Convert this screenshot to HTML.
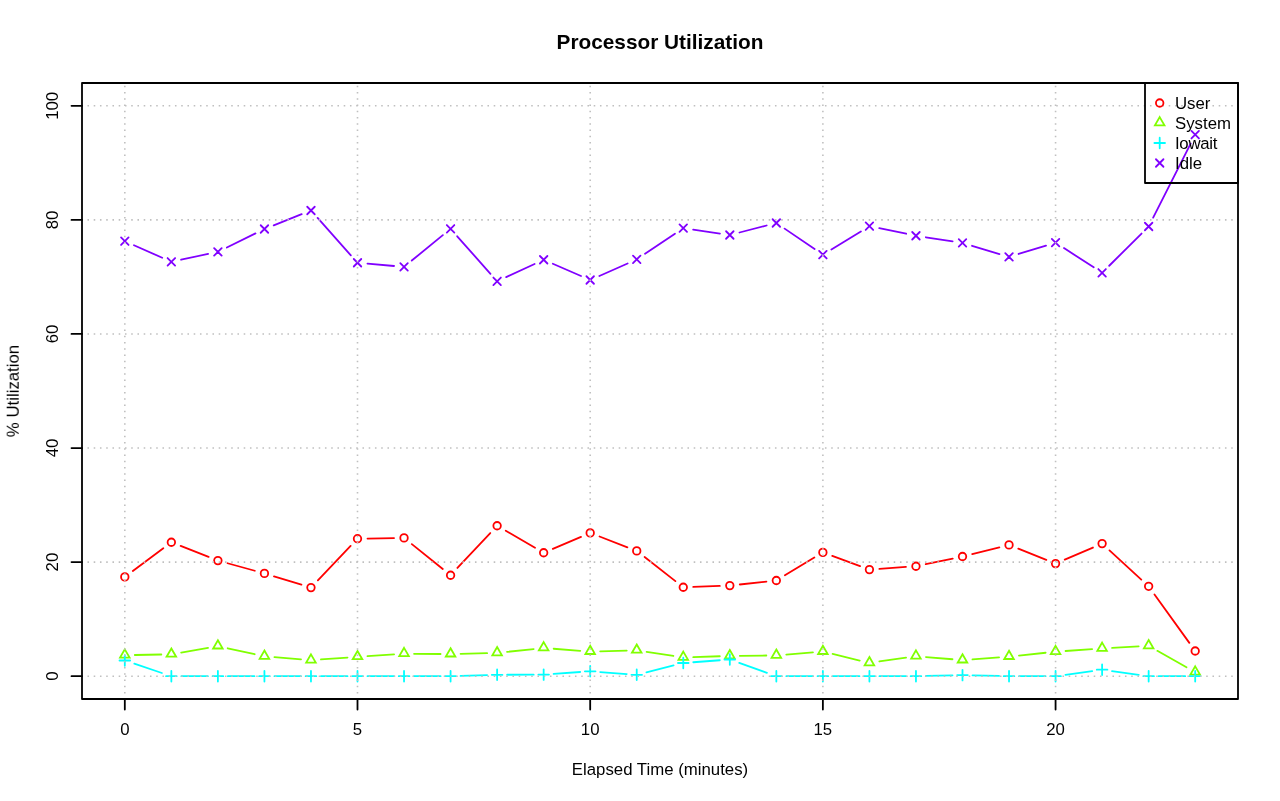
<!DOCTYPE html><html><head><meta charset="utf-8"><title>Processor Utilization</title><style>html,body{margin:0;padding:0;background:#fff;overflow:hidden}svg{display:block}text{font-family:"Liberation Sans",Arial,Helvetica,sans-serif;fill:#000}</style></head><body>
<svg width="1280" height="801" viewBox="0 0 1280 801">
<rect width="1280" height="801" fill="#fff"/>
<defs><clipPath id="pc"><rect x="82.0" y="83.0" width="1156.0" height="616.0"/></clipPath></defs>
<g clip-path="url(#pc)">
<path d="M132.84 570.93L163.33 548.22M180.66 545.92L208.59 556.93M227.53 563.25L254.79 570.75M273.99 576.32L301.4 584.68M317.86 580.36L350.61 545.94M367.5 538.53L394.04 538.07M411.84 544.16L442.78 568.99M457.43 567.96L490.27 533.04M505.77 530.77L535.01 547.73M552.85 548.83L581 536.82M599.52 536.51L627.4 547.29M644.61 557.06L675.39 581.09M693.26 586.9L719.81 585.95M739.75 584.51L766.4 581.59M784.91 575.33L814.32 557.57M832.26 555.87L860.04 566.13M879.39 568.88L905.98 566.97M925.75 564.2L952.71 558.55M972.2 554.08L999.33 547.32M1018.31 548.63L1046.29 559.87M1064.76 559.65L1092.92 547.55M1109.48 550.36L1141.28 579.54M1154.49 594.42L1189.35 642.88" stroke="#FF0000" stroke-width="1.8" fill="none" stroke-linecap="round"/>
<g stroke="#FF0000" stroke-width="1.8" fill="none" stroke-linecap="round"><circle cx="124.81" cy="576.9" r="3.75"/><circle cx="171.35" cy="542.25" r="3.75"/><circle cx="217.89" cy="560.6" r="3.75"/><circle cx="264.43" cy="573.4" r="3.75"/><circle cx="310.97" cy="587.6" r="3.75"/><circle cx="357.5" cy="538.7" r="3.75"/><circle cx="404.04" cy="537.9" r="3.75"/><circle cx="450.58" cy="575.25" r="3.75"/><circle cx="497.12" cy="525.75" r="3.75"/><circle cx="543.66" cy="552.75" r="3.75"/><circle cx="590.19" cy="532.9" r="3.75"/><circle cx="636.73" cy="550.9" r="3.75"/><circle cx="683.27" cy="587.25" r="3.75"/><circle cx="729.81" cy="585.6" r="3.75"/><circle cx="776.34" cy="580.5" r="3.75"/><circle cx="822.88" cy="552.4" r="3.75"/><circle cx="869.42" cy="569.6" r="3.75"/><circle cx="915.96" cy="566.25" r="3.75"/><circle cx="962.5" cy="556.5" r="3.75"/><circle cx="1009.03" cy="544.9" r="3.75"/><circle cx="1055.57" cy="563.6" r="3.75"/><circle cx="1102.11" cy="543.6" r="3.75"/><circle cx="1148.65" cy="586.3" r="3.75"/><circle cx="1195.19" cy="651" r="3.75"/></g>
<path d="M134.81 655.01L161.35 654.49M181.2 652.56L208.04 647.84M227.65 648.26L254.66 654.24M274.4 657.21L301 659.39M320.94 659.47L347.53 657.53M367.48 656.14L394.06 654.36M414.04 653.79L440.58 654.01M460.58 653.84L487.12 653.16M507.06 651.85L533.71 649.05M553.63 648.77L580.22 650.83M600.19 651.32L626.73 650.58M646.61 651.83L673.39 655.97M693.26 657.16L719.81 656.24M739.81 655.79L766.35 655.51M786.31 654.59L812.92 652.41M832.6 653.96L859.7 660.54M879.32 661.48L906.06 657.62M925.92 657.04L952.53 659.26M972.47 659.35L999.06 657.35M1018.98 655.55L1045.63 652.75M1065.55 651.01L1092.13 649.19M1112.09 647.94L1138.66 646.46M1157.35 650.82L1186.48 667.28" stroke="#80FF00" stroke-width="1.8" fill="none" stroke-linecap="round"/>
<g stroke="#80FF00" stroke-width="1.8" fill="none" stroke-linecap="round"><path d="M124.81 649.33L129.6 657.61L120.03 657.61Z"/><path d="M171.35 648.43L176.13 656.71L166.57 656.71Z"/><path d="M217.89 640.23L222.67 648.51L213.11 648.51Z"/><path d="M264.43 650.53L269.21 658.81L259.65 658.81Z"/><path d="M310.97 654.33L315.75 662.61L306.19 662.61Z"/><path d="M357.5 650.93L362.29 659.21L352.72 659.21Z"/><path d="M404.04 647.83L408.82 656.11L399.26 656.11Z"/><path d="M450.58 648.23L455.36 656.51L445.8 656.51Z"/><path d="M497.12 647.03L501.9 655.31L492.34 655.31Z"/><path d="M543.66 642.13L548.44 650.41L538.87 650.41Z"/><path d="M590.19 645.73L594.97 654.01L585.41 654.01Z"/><path d="M636.73 644.43L641.51 652.71L631.95 652.71Z"/><path d="M683.27 651.63L688.05 659.91L678.49 659.91Z"/><path d="M729.81 650.03L734.59 658.31L725.03 658.31Z"/><path d="M776.34 649.53L781.13 657.81L771.56 657.81Z"/><path d="M822.88 645.73L827.66 654.01L818.1 654.01Z"/><path d="M869.42 657.03L874.2 665.31L864.64 665.31Z"/><path d="M915.96 650.33L920.74 658.61L911.18 658.61Z"/><path d="M962.5 654.23L967.28 662.51L957.71 662.51Z"/><path d="M1009.03 650.73L1013.81 659.01L1004.25 659.01Z"/><path d="M1055.57 645.83L1060.35 654.11L1050.79 654.11Z"/><path d="M1102.11 642.63L1106.89 650.91L1097.33 650.91Z"/><path d="M1148.65 640.03L1153.43 648.31L1143.87 648.31Z"/><path d="M1195.19 666.33L1199.97 674.61L1190.4 674.61Z"/></g>
<path d="M134.29 663.69L161.88 672.99M181.35 676.19L207.89 676.19M227.89 676.19L254.43 676.19M274.43 676.19L300.97 676.19M320.97 676.19L347.5 676.19M367.5 676.19L394.04 676.19M414.04 676.19L440.58 676.19M460.58 675.89L487.12 675.1M507.12 674.76L533.66 674.64M553.63 673.89L580.22 672.01M600.17 672.05L626.76 674.05M646.42 672.34L673.58 665.46M693.24 662.25L719.83 660.25M739.22 662.87L766.93 672.81M786.34 676.19L812.88 676.19M832.88 676.19L859.42 676.19M879.42 676.19L905.96 676.19M925.96 675.95L952.5 675.33M972.49 675.33L999.04 675.95M1019.03 676.19L1045.57 676.19M1065.48 674.8L1092.21 671.08M1112.01 671.08L1138.74 674.8M1158.65 676.19L1185.19 676.19" stroke="#00FFFF" stroke-width="1.8" fill="none" stroke-linecap="round"/>
<g stroke="#00FFFF" stroke-width="1.8" fill="none" stroke-linecap="round"><path d="M119.51 660.5H130.12M124.81 655.2V665.8"/><path d="M166.05 676.19H176.66M171.35 670.88V681.49"/><path d="M212.59 676.19H223.19M217.89 670.88V681.49"/><path d="M259.13 676.19H269.73M264.43 670.88V681.49"/><path d="M305.66 676.19H316.27M310.97 670.88V681.49"/><path d="M352.2 676.19H362.81M357.5 670.88V681.49"/><path d="M398.74 676.19H409.35M404.04 670.88V681.49"/><path d="M445.28 676.19H455.88M450.58 670.88V681.49"/><path d="M491.81 674.8H502.42M497.12 669.5V680.1"/><path d="M538.35 674.6H548.96M543.66 669.3V679.9"/><path d="M584.89 671.3H595.5M590.19 666V676.6"/><path d="M631.43 674.8H642.03M636.73 669.5V680.1"/><path d="M677.97 663H688.57M683.27 657.7V668.3"/><path d="M724.5 659.5H735.11M729.81 654.2V664.8"/><path d="M771.04 676.19H781.65M776.34 670.88V681.49"/><path d="M817.58 676.19H828.19M822.88 670.88V681.49"/><path d="M864.12 676.19H874.72M869.42 670.88V681.49"/><path d="M910.65 676.19H921.26M915.96 670.88V681.49"/><path d="M957.19 675.1H967.8M962.5 669.8V680.4"/><path d="M1003.73 676.19H1014.34M1009.03 670.88V681.49"/><path d="M1050.27 676.19H1060.87M1055.57 670.88V681.49"/><path d="M1096.81 669.7H1107.41M1102.11 664.4V675"/><path d="M1143.34 676.19H1153.95M1148.65 670.88V681.49"/><path d="M1189.88 676.19H1200.49M1195.19 670.88V681.49"/></g>
<path d="M133.96 245.25L162.21 257.75M181.13 259.72L208.11 253.98M226.86 247.48L255.46 233.42M273.72 225.31L301.67 214.19M317.62 217.97L350.85 255.28M367.46 263.64L394.08 266.01M411.78 260.57L442.84 235.13M457.21 236.28L490.48 273.82M506.19 277.1L534.58 263.95M552.82 263.74L581.02 276.01M599.34 275.95L627.59 263.45M645.03 253.82L674.97 233.68M693.16 229.57L719.91 233.53M739.49 232.5L766.66 225.5M784.61 228.63L814.62 249.07M831.41 249.48L860.89 231.42M879.22 228.21L906.16 233.74M925.84 237.27L952.61 241.38M972.07 245.78L999.46 254.02M1018.6 253.97L1046.01 245.58M1063.96 248.09L1093.72 267.36M1109.2 265.75L1141.56 233.55M1153.17 217.58L1190.66 143.62" stroke="#8000FF" stroke-width="1.8" fill="none" stroke-linecap="round"/>
<g stroke="#8000FF" stroke-width="1.8" fill="none" stroke-linecap="round"><path d="M121.06 237.45L128.56 244.95M121.06 244.95L128.56 237.45"/><path d="M167.6 258.05L175.1 265.55M167.6 265.55L175.1 258.05"/><path d="M214.14 248.15L221.64 255.65M214.14 255.65L221.64 248.15"/><path d="M260.68 225.25L268.18 232.75M260.68 232.75L268.18 225.25"/><path d="M307.22 206.75L314.72 214.25M307.22 214.25L314.72 206.75"/><path d="M353.75 259L361.25 266.5M353.75 266.5L361.25 259"/><path d="M400.29 263.15L407.79 270.65M400.29 270.65L407.79 263.15"/><path d="M446.83 225.05L454.33 232.55M446.83 232.55L454.33 225.05"/><path d="M493.37 277.55L500.87 285.05M493.37 285.05L500.87 277.55"/><path d="M539.91 256L547.41 263.5M539.91 263.5L547.41 256"/><path d="M586.44 276.25L593.94 283.75M586.44 283.75L593.94 276.25"/><path d="M632.98 255.65L640.48 263.15M632.98 263.15L640.48 255.65"/><path d="M679.52 224.35L687.02 231.85M679.52 231.85L687.02 224.35"/><path d="M726.06 231.25L733.56 238.75M726.06 238.75L733.56 231.25"/><path d="M772.59 219.25L780.09 226.75M772.59 226.75L780.09 219.25"/><path d="M819.13 250.95L826.63 258.45M819.13 258.45L826.63 250.95"/><path d="M865.67 222.45L873.17 229.95M865.67 229.95L873.17 222.45"/><path d="M912.21 232L919.71 239.5M912.21 239.5L919.71 232"/><path d="M958.75 239.15L966.25 246.65M958.75 246.65L966.25 239.15"/><path d="M1005.28 253.15L1012.78 260.65M1005.28 260.65L1012.78 253.15"/><path d="M1051.82 238.9L1059.32 246.4M1051.82 246.4L1059.32 238.9"/><path d="M1098.36 269.05L1105.86 276.55M1098.36 276.55L1105.86 269.05"/><path d="M1144.9 222.75L1152.4 230.25M1144.9 230.25L1152.4 222.75"/><path d="M1191.44 130.95L1198.94 138.45M1191.44 138.45L1198.94 130.95"/></g>
</g>
<path d="M124.81 699.0V83.0M357.5 699.0V83.0M590.19 699.0V83.0M822.88 699.0V83.0M1055.57 699.0V83.0" stroke="#c0c0c0" stroke-width="1.6" stroke-dasharray="1.56 4.69" stroke-dashoffset="0.8" fill="none"/>
<path d="M82.0 676.19H1238.0M82.0 562.11H1238.0M82.0 448.04H1238.0M82.0 333.96H1238.0M82.0 219.89H1238.0M82.0 105.81H1238.0" stroke="#c0c0c0" stroke-width="1.6" stroke-dasharray="1.56 4.69" stroke-dashoffset="0.8" fill="none"/>
<rect x="82.0" y="83.0" width="1156.0" height="616.0" fill="none" stroke="#000" stroke-width="1.8" stroke-linejoin="round"/>
<path d="M124.81 699.0V709.5M357.5 699.0V709.5M590.19 699.0V709.5M822.88 699.0V709.5M1055.57 699.0V709.5M82.0 676.19H71.5M82.0 562.11H71.5M82.0 448.04H71.5M82.0 333.96H71.5M82.0 219.89H71.5M82.0 105.81H71.5" stroke="#000" stroke-width="1.8" fill="none" stroke-linecap="round"/>
<rect x="1145.0" y="83.0" width="93.0" height="100.0" fill="none" stroke="#000" stroke-width="1.8" stroke-linejoin="round"/>
<g stroke="#FF0000" stroke-width="1.8" fill="none" stroke-linecap="round"><circle cx="1159.7" cy="103" r="3.75"/></g>
<g stroke="#80FF00" stroke-width="1.8" fill="none" stroke-linecap="round"><path d="M1159.7 117.13L1164.48 125.41L1154.92 125.41Z"/></g>
<g stroke="#00FFFF" stroke-width="1.8" fill="none" stroke-linecap="round"><path d="M1154.4 143H1165M1159.7 137.7V148.3"/></g>
<g stroke="#8000FF" stroke-width="1.8" fill="none" stroke-linecap="round"><path d="M1155.95 159.25L1163.45 166.75M1155.95 166.75L1163.45 159.25"/></g>
<g opacity="0.999">
<text x="124.81" y="735" font-size="16.8" text-anchor="middle">0</text>
<text x="357.5" y="735" font-size="16.8" text-anchor="middle">5</text>
<text x="590.19" y="735" font-size="16.8" text-anchor="middle">10</text>
<text x="822.88" y="735" font-size="16.8" text-anchor="middle">15</text>
<text x="1055.57" y="735" font-size="16.8" text-anchor="middle">20</text>
<text transform="translate(58.3 676.19) rotate(-90)" font-size="16.8" text-anchor="middle">0</text>
<text transform="translate(58.3 562.11) rotate(-90)" font-size="16.8" text-anchor="middle">20</text>
<text transform="translate(58.3 448.04) rotate(-90)" font-size="16.8" text-anchor="middle">40</text>
<text transform="translate(58.3 333.96) rotate(-90)" font-size="16.8" text-anchor="middle">60</text>
<text transform="translate(58.3 219.89) rotate(-90)" font-size="16.8" text-anchor="middle">80</text>
<text transform="translate(58.3 105.81) rotate(-90)" font-size="16.8" text-anchor="middle">100</text>
<text x="660" y="774.7" font-size="16.8" text-anchor="middle">Elapsed Time (minutes)</text>
<text transform="translate(18.7 391) rotate(-90)" font-size="16.8" text-anchor="middle">% Utilization</text>
<text x="660" y="48.6" font-size="20.8" font-weight="bold" text-anchor="middle">Processor Utilization</text>
<text x="1175.0" y="109.1" font-size="16.8">User</text>
<text x="1175.0" y="129.1" font-size="16.8">System</text>
<text x="1175.0" y="149.1" font-size="16.8" letter-spacing="-0.3">Iowait</text>
<text x="1175.0" y="169.1" font-size="16.8">Idle</text>
</g>
</svg></body></html>
